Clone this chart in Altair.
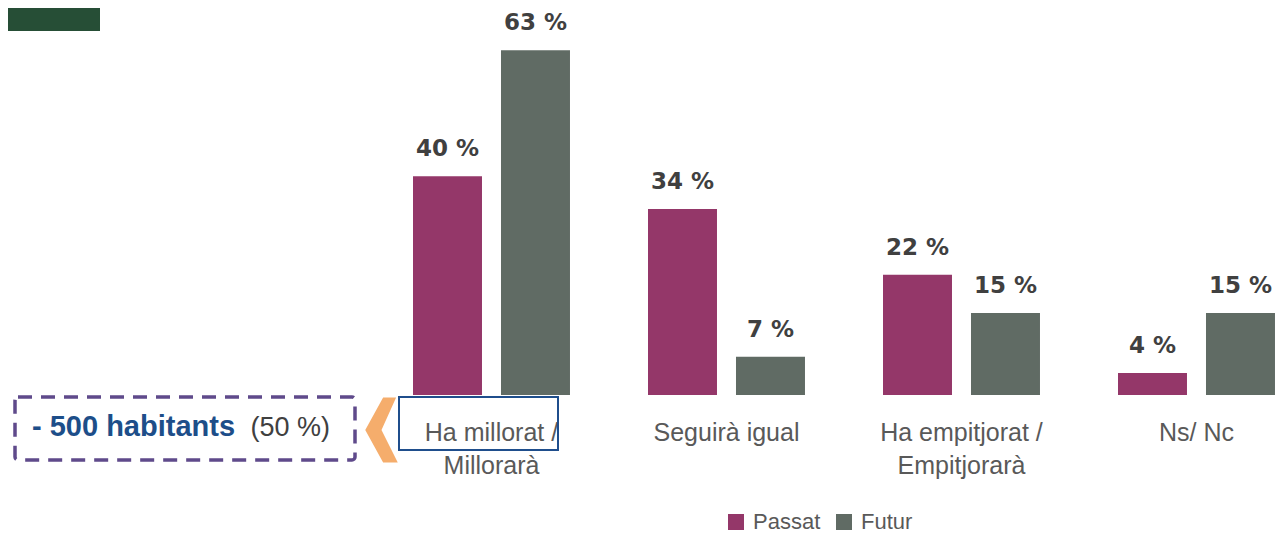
import altair as alt
import pandas as pd

categories = ["Ha millorat /\nMillorarà", "Seguirà igual", "Ha empitjorat /\nEmpitjorarà", "Ns/ Nc"]
series = ["Passat", "Futur"]
passat = [40, 34, 22, 4]
futur = [63, 7, 15, 15]
colors = ["#943769", "#606b64"]

rows = []
for c, p, f in zip(categories, passat, futur):
    rows.append({"cat": c, "serie": "Passat", "v": p, "lbl": f"{p} %"})
    rows.append({"cat": c, "serie": "Futur", "v": f, "lbl": f"{f} %"})
df = pd.DataFrame(rows)

one = pd.DataFrame({"a": [0]})

xenc = alt.X("cat:N", sort=categories, title=None,
             scale=alt.Scale(paddingInner=0.332, paddingOuter=0.0809, align=0.868),
             axis=alt.Axis(labelExpr="split(datum.label, '\\n')", labelAngle=0,
                           labelFont="Liberation Sans", labelFontSize=25, labelColor="#595959",
                           labelLineHeight=33, labelPadding=25, labelBaseline="top",
                           domain=False, ticks=False, tickSize=0, grid=False))
xoff = alt.XOffset("serie:N", sort=series, scale=alt.Scale(paddingInner=0.216, paddingOuter=0))
yenc = alt.Y("v:Q", scale=alt.Scale(domain=[0, 70]), axis=None)
cenc = alt.Color("serie:N", sort=series, scale=alt.Scale(domain=series, range=colors),
                 legend=alt.Legend(title=None, orient="none", legendX=345, legendY=499,
                                   direction="horizontal", symbolType="square", symbolSize=256,
                                   symbolStrokeWidth=0, labelFont="Liberation Sans",
                                   labelFontSize=22, labelColor="#595959", labelOffset=6,
                                   columnPadding=12, padding=0))

bars = alt.Chart(df).mark_bar().encode(x=xenc, xOffset=xoff, y=yenc, color=cenc)
labels = alt.Chart(df).mark_text(font="DejaVu Sans", fontWeight="bold", fontSize=23,
                                 color="#404040", baseline="alphabetic", dy=-20).encode(
    x=alt.X("cat:N", sort=categories), xOffset=alt.XOffset("serie:N", sort=series),
    y="v:Q", text="lbl:N")

green = alt.Chart(one).mark_rect(color="#264e36").encode(
    x=alt.value(-372), x2=alt.value(-280), y=alt.value(-4), y2=alt.value(19))
dashbox = alt.Chart(one).mark_rect(fill="transparent", stroke="#5f4a8b", strokeWidth=3.5,
                                   strokeDash=[14, 9], cornerRadius=3).encode(
    x=alt.value(-365), x2=alt.value(-25), y=alt.value(385), y2=alt.value(448))
t1 = alt.Chart(one).mark_text(text="- 500 habitants", font="Liberation Sans", fontWeight="bold",
                              fontSize=29, color="#1d4e89", align="left", baseline="alphabetic").encode(
    x=alt.value(-348), y=alt.value(424))
t2 = alt.Chart(one).mark_text(text="(50 %)", font="Liberation Sans", fontSize=27,
                              color="#404040", align="right", baseline="alphabetic").encode(
    x=alt.value(-50), y=alt.value(424))
chevron = alt.Chart(one).mark_point(shape="M 0.05 -1 L 0.45 -1 L 0 0 L 0.5 1 L 0.05 1 L -0.5 0 Z",
                                    filled=True, fill="#f5ad6c", opacity=1, strokeWidth=0,
                                    size=4225).encode(x=alt.value(1.5), y=alt.value(418))
bluebox = alt.Chart(one).mark_rect(fill="transparent", stroke="#1f4e8c", strokeWidth=2).encode(
    x=alt.value(19), x2=alt.value(178), y=alt.value(385), y2=alt.value(438))

chart = alt.layer(bars, labels, green, dashbox, t1, t2, chevron, bluebox).properties(
    width=900, height=383,
    autosize=alt.AutoSizeParams(type="none"),
    padding={"left": 372, "top": 4, "right": 0, "bottom": 143},
).configure_view(strokeWidth=0)

chart.save("out.html", embed_options={"renderer": "svg", "actions": False})
